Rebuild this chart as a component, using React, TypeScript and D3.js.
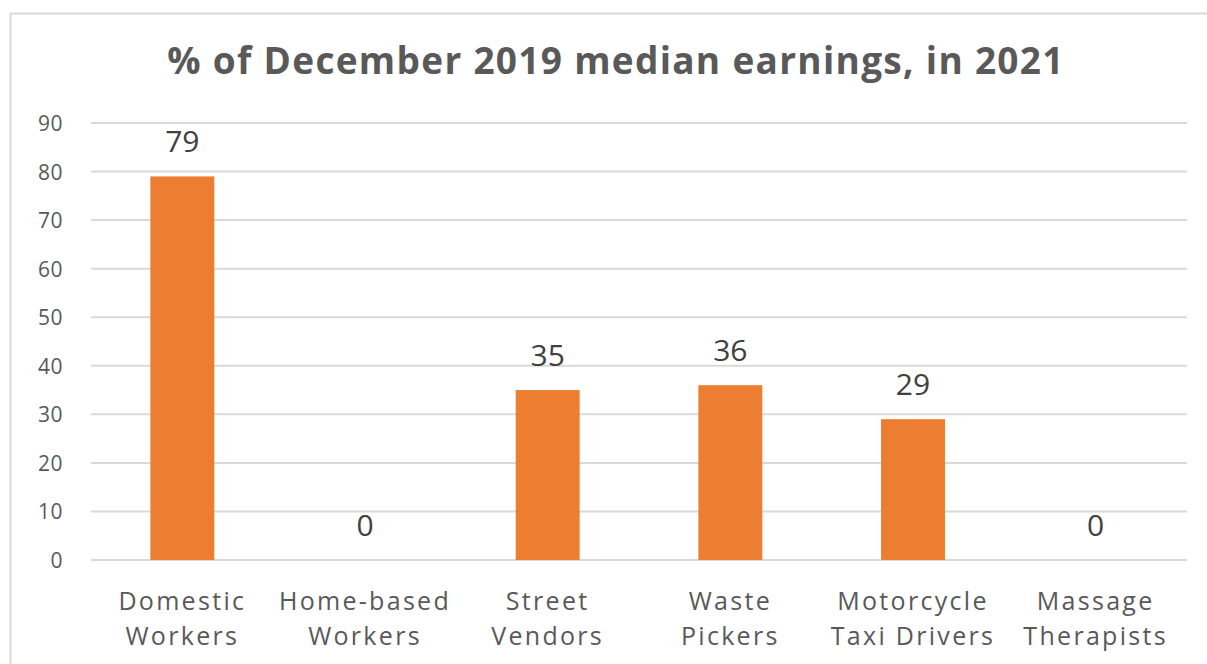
import React, { useEffect, useRef } from 'react';
import * as d3 from 'd3';

const categories = [
    ['Domestic', 'Workers'],
    ['Home-based', 'Workers'],
    ['Street', 'Vendors'],
    ['Waste', 'Pickers'],
    ['Motorcycle', 'Taxi Drivers'],
    ['Massage', 'Therapists'],
];
const values = [79, 0, 35, 36, 29, 0];
const yTicks = [0, 10, 20, 30, 40, 50, 60, 70, 80, 90];
const title = '% of December 2019 median earnings, in 2021';

const App: React.FC = () => {
    const chartRef = useRef<SVGSVGElement>(null);

    useEffect(() => {
        if (!chartRef.current) return;
        const svg = d3.select(chartRef.current);
        svg.selectAll('*').remove();

        const width = 1207;
        const height = 664;
        const font = "'Open Sans', 'DejaVu Sans', sans-serif";
        const textColor = '#595959';

        // Plot area
        const left = 91, right = 1187, top = 123, bottom = 560;

        // Chart frame (only top and left edges visible)
        svg.append('path')
            .attr('d', `M10.5,${height} L10.5,13.5 L${width},13.5`)
            .attr('fill', 'none')
            .attr('stroke', '#d9d9d9')
            .attr('stroke-width', 2);

        const labels = categories.map(c => c.join(' '));

        const x = d3.scaleBand()
            .domain(labels)
            .range([left, right])
            .paddingInner(0.65)
            .paddingOuter(0.325);

        const y = d3.scaleLinear()
            .domain([0, 90])
            .range([bottom, top]);

        // Grid lines
        svg.selectAll('line.grid')
            .data(yTicks)
            .enter()
            .append('line')
            .attr('class', 'grid')
            .attr('x1', left)
            .attr('x2', right)
            .attr('y1', d => y(d))
            .attr('y2', d => y(d))
            .attr('stroke', '#d9d9d9')
            .attr('stroke-width', 2);

        // Y tick labels
        svg.selectAll('text.y-label')
            .data(yTicks)
            .enter()
            .append('text')
            .attr('class', 'y-label')
            .attr('x', 63)
            .attr('y', d => y(d) + 8)
            .attr('text-anchor', 'end')
            .attr('fill', textColor)
            .attr('font-family', font)
            .attr('font-size', '21px')
            .attr('letter-spacing', '0.5px')
            .text(d => d);

        // Bars
        svg.selectAll('rect.bar')
            .data(values)
            .enter()
            .append('rect')
            .attr('class', 'bar')
            .attr('x', (_, i) => x(labels[i]) as number)
            .attr('y', d => y(d))
            .attr('width', x.bandwidth())
            .attr('height', d => bottom - y(d))
            .attr('fill', '#ED7D31');

        // Data labels
        svg.selectAll('text.value')
            .data(values)
            .enter()
            .append('text')
            .attr('class', 'value')
            .attr('x', (_, i) => (x(labels[i]) as number) + x.bandwidth() / 2)
            .attr('y', d => y(d) - 24)
            .attr('text-anchor', 'middle')
            .attr('fill', '#404040')
            .attr('font-family', font)
            .attr('font-size', '30px')
            .text(d => d);

        // Category labels (two lines)
        const cat = svg.selectAll('text.x-label')
            .data(categories)
            .enter()
            .append('text')
            .attr('class', 'x-label')
            .attr('text-anchor', 'middle')
            .attr('fill', textColor)
            .attr('font-family', font)
            .attr('font-size', '25px')
            .attr('letter-spacing', '2.3px');

        cat.each(function (d, i) {
            const cx = (x(labels[i]) as number) + x.bandwidth() / 2;
            d.forEach((line, j) => {
                d3.select(this).append('tspan')
                    .attr('x', cx)
                    .attr('y', 610 + j * 35)
                    .text(line);
            });
        });

        // Title
        svg.append('text')
            .attr('x', 616)
            .attr('y', 74)
            .attr('text-anchor', 'middle')
            .attr('fill', textColor)
            .attr('font-family', font)
            .attr('font-weight', 'bold')
            .attr('font-size', '37px')
            .attr('letter-spacing', '1.3px')
            .text(title);
    }, []);

    return (
        <svg
            ref={chartRef}
            width={1207}
            height={664}
            style={{ position: 'absolute', left: 0, top: 0, background: '#fff' }}
        />
    );
};

export default App;
